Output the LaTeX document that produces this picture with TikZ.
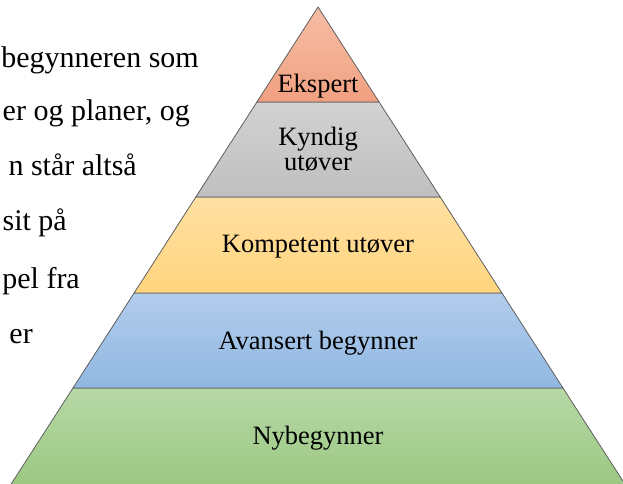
\documentclass[tikz,border=0pt]{standalone}
\usepackage{fontspec}
\setmainfont{Liberation Serif}
\newfontfamily\tnr{Liberation Serif}
\definecolor{linegray}{RGB}{95,95,95}
\definecolor{expT}{RGB}{246,190,165}
\definecolor{expB}{RGB}{241,160,128}
\definecolor{kynT}{RGB}{210,210,210}
\definecolor{kynB}{RGB}{191,191,191}
\definecolor{komT}{RGB}{255,224,163}
\definecolor{komB}{RGB}{255,212,125}
\definecolor{avaT}{RGB}{178,204,236}
\definecolor{avaB}{RGB}{145,184,226}
\definecolor{nybT}{RGB}{183,216,166}
\definecolor{nybB}{RGB}{155,200,130}
\begin{document}
\begin{tikzpicture}[x=1pt,y=-1pt,
  band/.style={draw=linegray, line width=0.8pt, line join=round},
  lbl/.style={font=\tnr\fontsize{26.5}{25}\selectfont, align=center, inner sep=0pt},
  doc/.style={font=\tnr\fontsize{30}{36}\selectfont, anchor=base east, inner sep=0pt}]
\useasboundingbox (0,0) rectangle (623,483);
\clip (0,0) rectangle (623,483);
\fill[white] (0,0) rectangle (623,483);
% pyramid bands
\path[band, top color=nybT, bottom color=nybB] (73,388) -- (563,388) -- (625.5,485) -- (10.5,485) -- cycle;
\path[band, top color=avaT, bottom color=avaB] (134.1,293) -- (501.9,293) -- (563,388) -- (73,388) -- cycle;
\path[band, top color=komT, bottom color=komB] (195.8,197) -- (440.2,197) -- (501.9,293) -- (134.1,293) -- cycle;
\path[band, top color=kynT, bottom color=kynB] (256.9,102) -- (379.1,102) -- (440.2,197) -- (195.8,197) -- cycle;
\path[band, top color=expT, bottom color=expB] (318,7) -- (379.1,102) -- (256.9,102) -- cycle;
% labels
\node[lbl, anchor=base] (ekspert) at (318,92) {Ekspert};
\node[lbl, anchor=center] (kyndig) at (318,149) {Kyndig\\utøver};
\node[lbl, anchor=base] (kompetent) at (318,252.5) {Kompetent utøver};
\node[lbl, anchor=base] (avansert) at (318,349) {Avansert begynner};
\node[lbl, anchor=base] (nybegynner) at (318,444) {Nybegynner};
% cut-off document text on the left
\node[doc] (t1) at (199,67) {begynneren som};
\node[doc] (t2) at (190,120) {er og planer, og};
\node[doc] (t3) at (137,175) {n står altså};
\node[doc] (t4) at (67,230) {sit på};
\node[doc] (t5) at (80,288) {pel fra};
\node[doc] (t6) at (33,343) {er};
\end{tikzpicture}
\end{document}
